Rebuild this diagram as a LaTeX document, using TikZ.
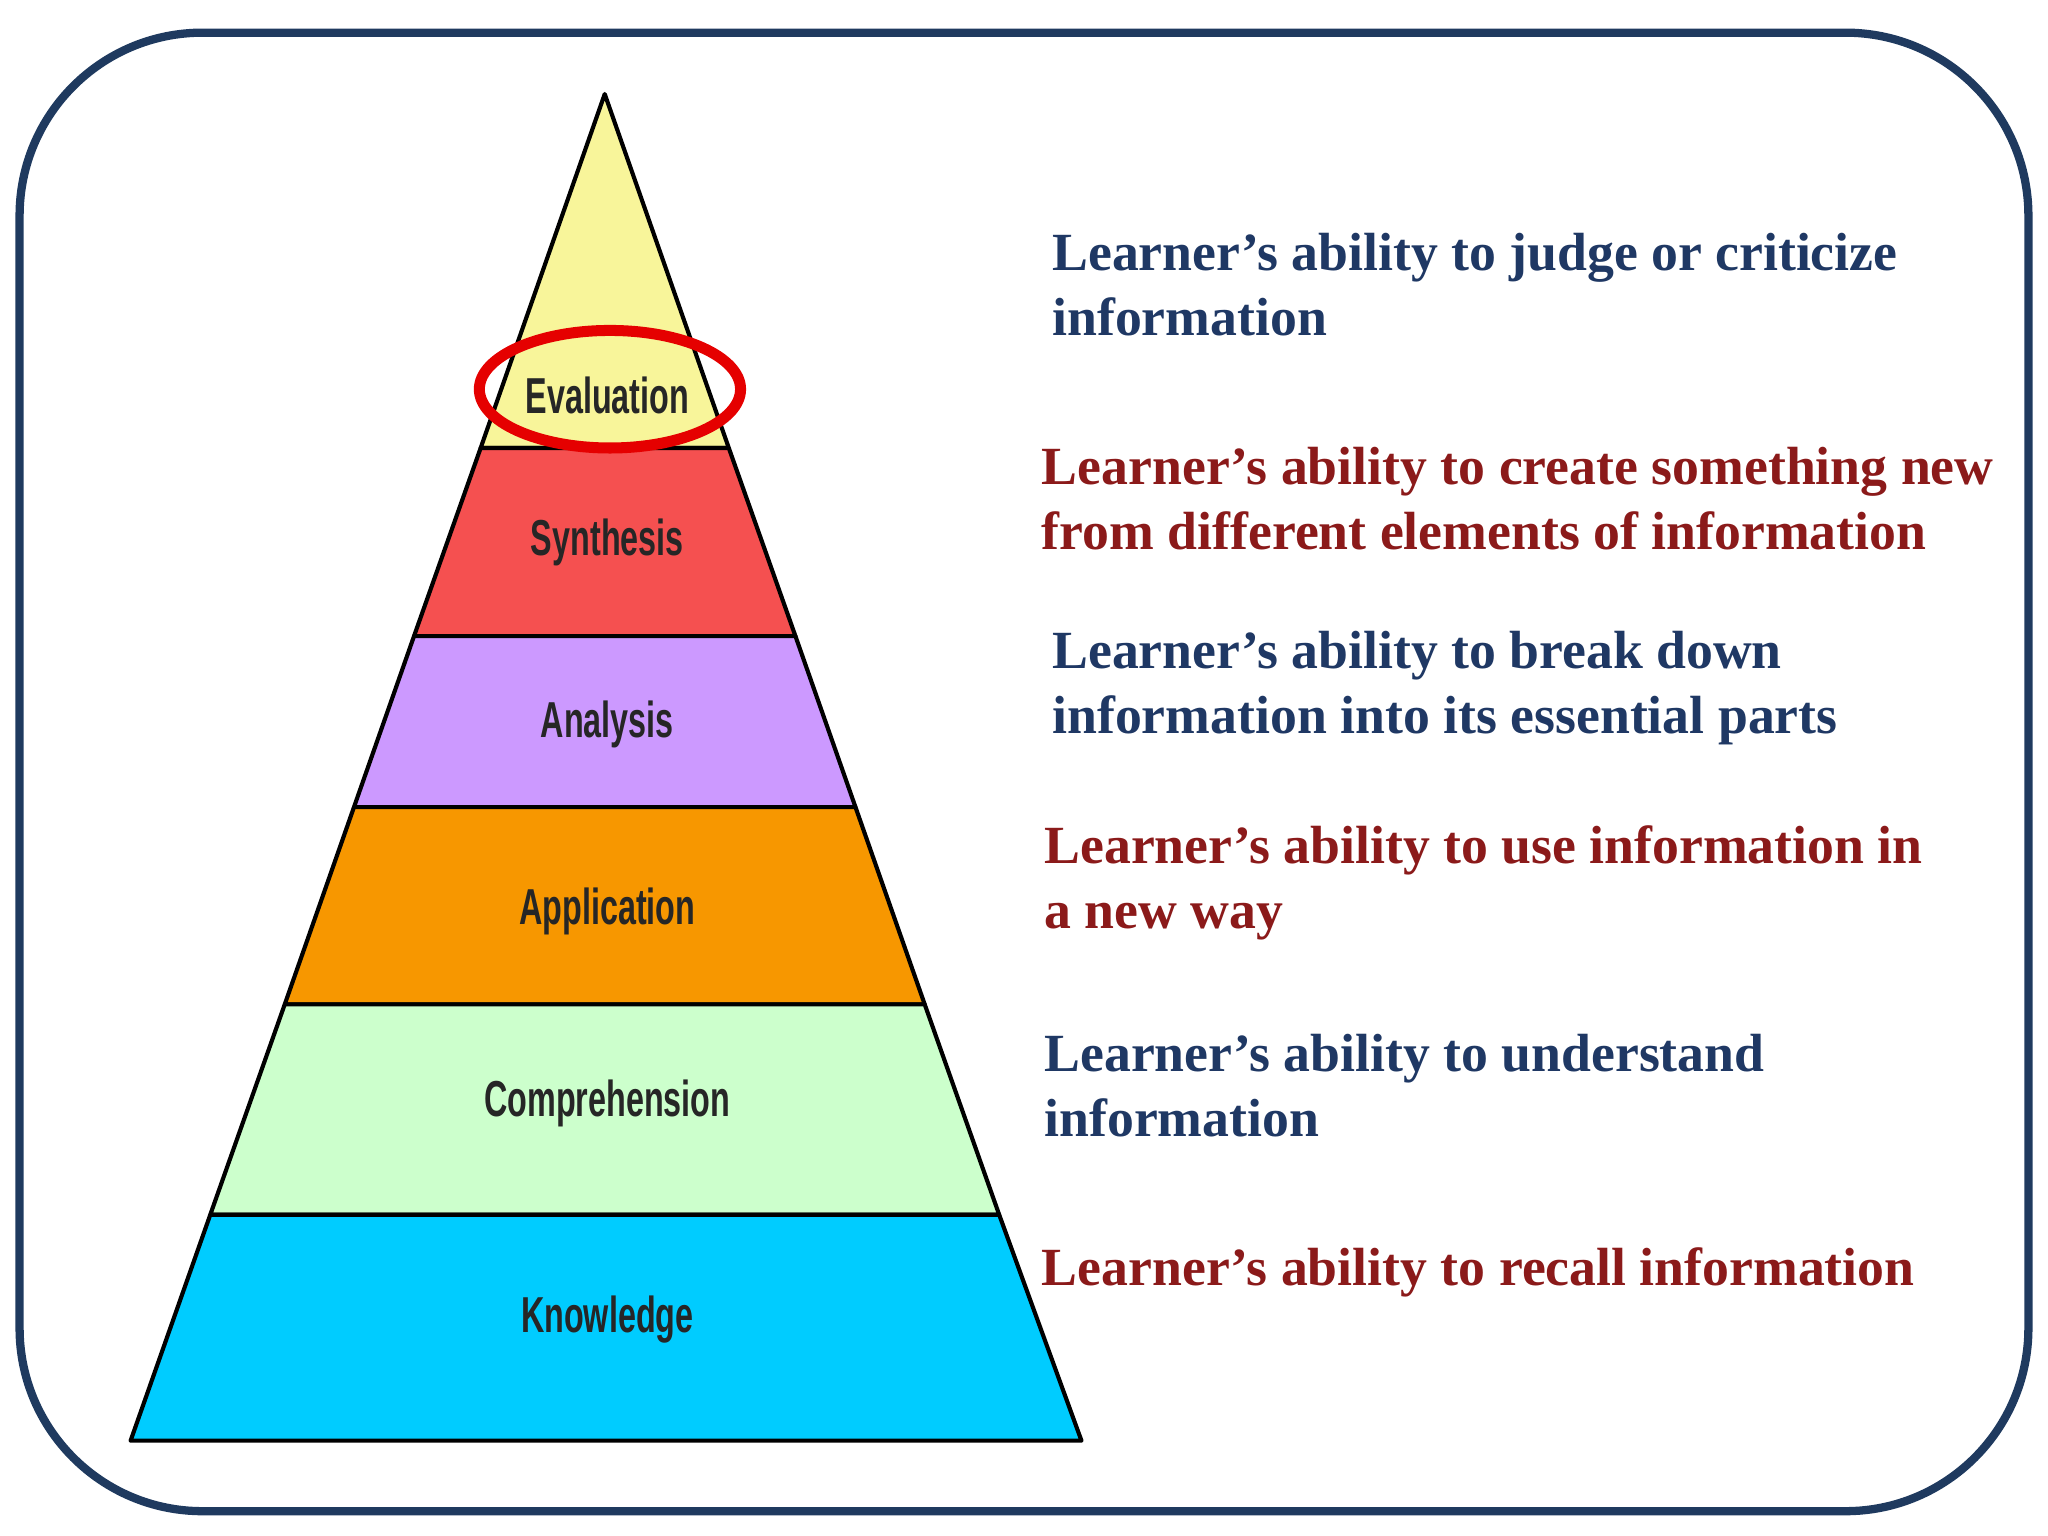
\documentclass[tikz,border=0pt]{standalone}
\usepackage{fontspec}
\setmainfont{Liberation Serif}
\newfontfamily\labfont{Liberation Sans}
\definecolor{fr}{HTML}{1F3A5F}
\definecolor{tb}{HTML}{1F3864}
\definecolor{tr}{HTML}{8B1A1A}
\definecolor{cy}{HTML}{F8F59A}
\definecolor{cr}{HTML}{F55050}
\definecolor{cp}{HTML}{CC99FF}
\definecolor{co}{HTML}{F79700}
\definecolor{cg}{HTML}{CCFFCC}
\definecolor{cc}{HTML}{00CCFF}
\tikzset{layer/.style={draw=black,line width=0.9pt,line join=round},
 lab/.style={font=\labfont\bfseries\fontsize{11}{13}\selectfont,xscale=0.64,text=black!85},
 desc/.style={anchor=west,align=left,inner sep=0pt,font=\bfseries\fontsize{11.7}{14.2}\selectfont}}
\begin{document}
\begin{tikzpicture}[x=0.01cm,y=-0.01cm]
\useasboundingbox (0,0) rectangle (1568,1176);
\draw[fr,line width=1.8pt,rounded corners=1.4cm] (15,25) rectangle (1553,1157);
\filldraw[layer,fill=cy] (463,72) -- (558,343) -- (368,343) -- cycle;
\filldraw[layer,fill=cr] (368,343) -- (558,343) -- (609,487) -- (317,487) -- cycle;
\filldraw[layer,fill=cp] (317,487) -- (609,487) -- (655,618) -- (271,618) -- cycle;
\filldraw[layer,fill=co] (271,618) -- (655,618) -- (708,769) -- (218,769) -- cycle;
\filldraw[layer,fill=cg] (218,769) -- (708,769) -- (765,930) -- (161,930) -- cycle;
\filldraw[layer,fill=cc] (161,930) -- (765,930) -- (828,1103) -- (100,1103) -- cycle;
\node[lab] (ev) at (465,303) {Evaluation};
\node[lab] (sy) at (465,415) {Synthesis};
\node[lab] (an) at (465,555) {Analysis};
\node[lab] (ap) at (465,698) {Application};
\node[lab] (co) at (465,845) {Comprehension};
\node[lab] (kn) at (465,1010) {Knowledge};
\draw[red!90!black,line width=2.4pt] (467,298) ellipse [x radius=100,y radius=45];
\node[desc,tb] (d1) at (805,218) {Learner’s ability to judge or criticize\\information};
\node[desc,tr] (d2) at (797,382) {Learner’s ability to create something new\\from different elements of information};
\node[desc,tb] (d3) at (805,527) {Learner’s ability to break down\\information into its essential parts};
\node[desc,tr] (d4) at (799,676) {Learner’s ability to use information in\\a new way};
\node[desc,tb] (d5) at (799,831) {Learner’s ability to understand\\information};
\node[desc,tr] (d6) at (797,974) {Learner’s ability to recall information};
\end{tikzpicture}
\end{document}
